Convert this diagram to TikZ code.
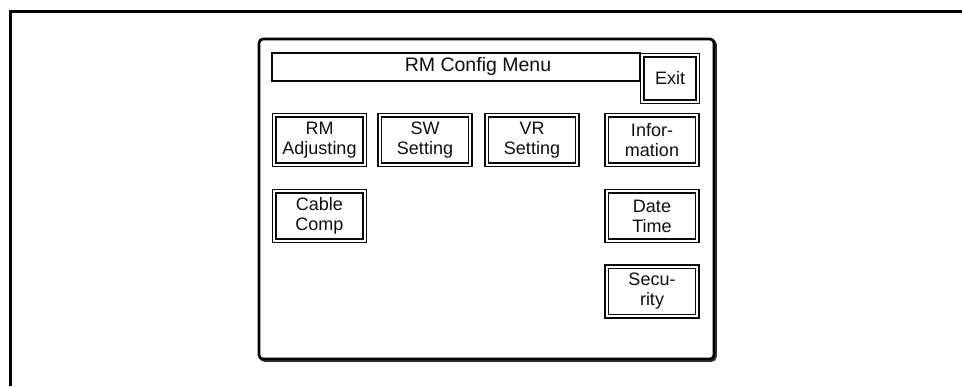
\documentclass[tikz,border=0pt]{standalone}
\usepackage{fontspec}
\setmainfont{Liberation Sans}
\usepackage{tikz}
\usetikzlibrary{positioning}
\definecolor{mydark}{RGB}{10,10,10}
\definecolor{mytext}{RGB}{15,15,15}
\tikzset{
  frameline/.style={line width=3pt, color=black},
  panelbox/.style={rectangle, draw=black, fill=white,
    rounded corners=4pt, line width=2.6pt,
    minimum width=455pt, minimum height=320pt, inner sep=0pt},
  titlebar/.style={rectangle, draw=mydark, line width=1.3pt,
    minimum width=368pt, minimum height=28pt, inner sep=0pt},
  btn/.style={rectangle, draw=mydark, double=white,
    double distance=2pt, line width=1.4pt,
    minimum width=90.6pt, minimum height=49.6pt, inner sep=0pt,
    align=center, text=mytext, font=\fontsize{18}{20}\selectfont}
}
\begin{document}
\begin{tikzpicture}[x=1pt, y=-1pt,
  lbl/.style={text=mytext, font=\fontsize{19.5}{22}\selectfont}
]
\useasboundingbox (0,0) rectangle (962,386);
% outer frame
\draw[frameline] (10,386) -- (10,11) -- (962,11);
% panel with shadow
\node[panelbox, draw=black!80, fill=none] (shadow) at (488,200.5) {};
\node[panelbox] (panel) at (486.5,199) {};
% title bar
\node[titlebar] (title) at (456,67) {};
\node[lbl] (titletext) at (478,66) {RM Config Menu};
\node[btn, minimum width=55.6pt, minimum height=46.6pt] (exit) at (670,78.5) {\raisebox{-4pt}{Exit}};
% first row
\node[btn] (rmadj) at (319.5,140) {RM\\Adjusting};
\node[btn] (swset) at (425,140) {SW\\Setting};
\node[btn] (vrset) at (532,140) {VR\\Setting};
\node[btn] (info) at (652,140) {Infor-\\mation};
% second row
\node[btn] (cable) at (319.5,216) {Cable\\Comp};
\node[btn] (datetime) at (652,216) {Date\\Time};
% third row
\node[btn] (security) at (652,291.5) {Secu-\\rity};
\end{tikzpicture}
\end{document}
